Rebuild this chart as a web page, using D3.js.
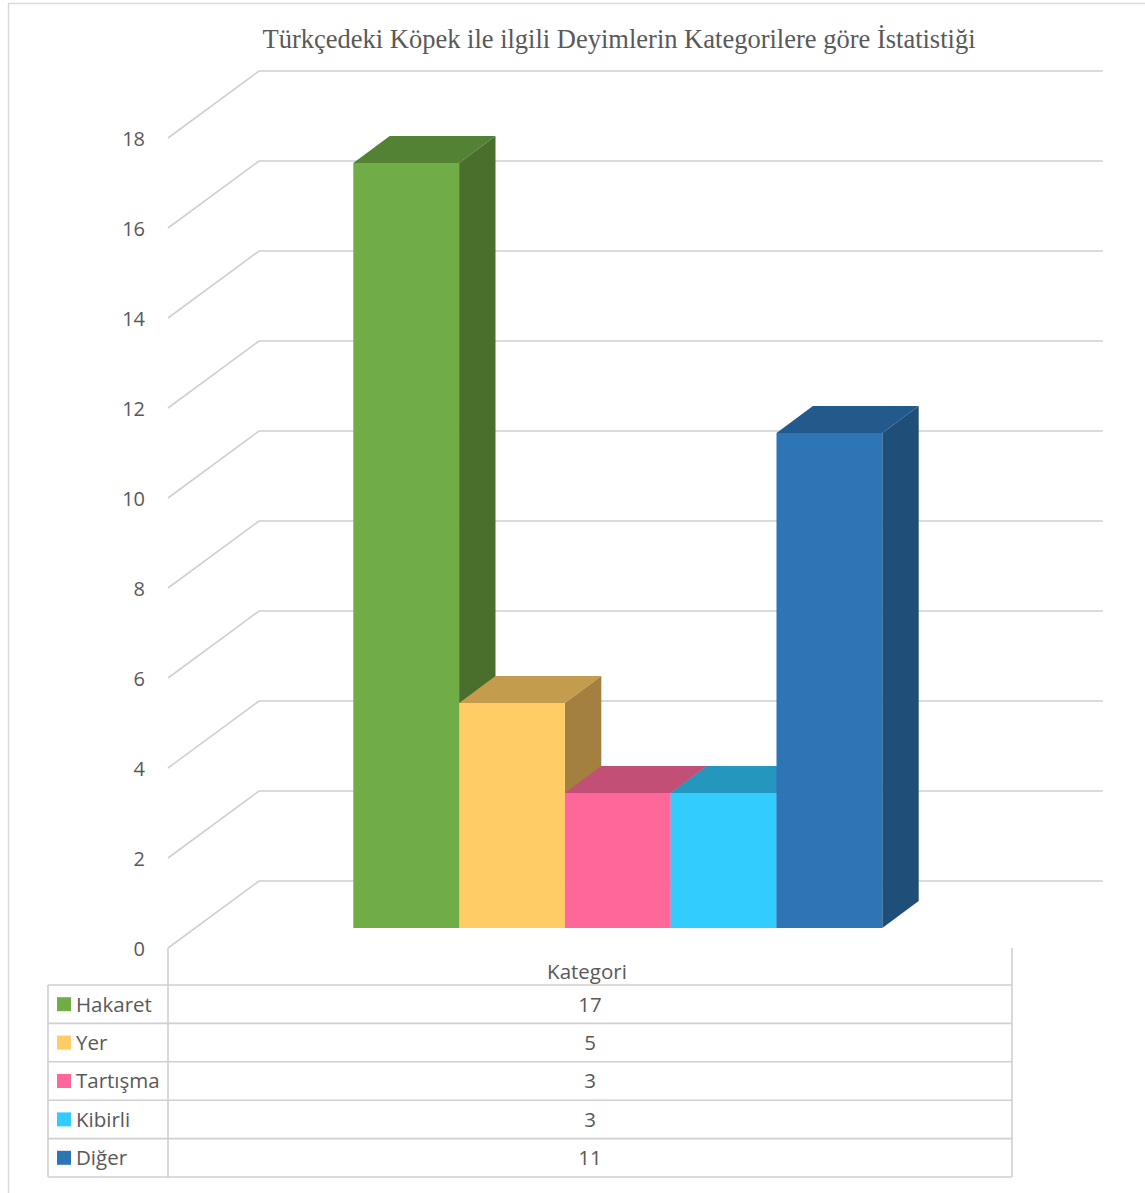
<!DOCTYPE html>
<html><head><meta charset="utf-8">
<script src="https://cdn.jsdelivr.net/npm/d3@7"></script>
<style>body{margin:0;background:#fff}svg{display:block}</style>
</head><body>
<script>
const title = "Türkçedeki Köpek ile ilgili Deyimlerin Kategorilere göre İstatistiği";
const categoryLabel = "Kategori";
const seriesNames = ["Hakaret", "Yer", "Tartışma", "Kibirli", "Diğer"];
const seriesValues = [17, 5, 3, 3, 11];
const yTicks = [0, 2, 4, 6, 8, 10, 12, 14, 16, 18];
const frontColors = ["#70AD47", "#FFCC66", "#FF6699", "#33CCFF", "#2E75B6"];
const topColors = ["#548235", "#C39C4E", "#C14F76", "#2596BE", "#225A8C"];
const sideColors = ["#48702C", "#A3803F", "#A8436A", "#1F86AA", "#1F4E79"];

const W = 1145, H = 1193;
const svg = d3.select("body").append("svg").attr("width", W).attr("height", H);
const txt = "#595959", grid = "#d0d0d0";

svg.append("rect").attr("x", 8.5).attr("y", 3.5).attr("width", 1150).attr("height", 1200)
  .attr("fill", "none").attr("stroke", "#d9d9d9").attr("stroke-width", 1.5);

// geometry
const floorX0 = 168, floorX1 = 1012;
const DX = 91, DY = 67;
const y = d3.scaleLinear().domain([0, 18]).range([948, 138]);
const P = (x, v, d) => [x + d * DX, y(v) - d * DY];

// gridlines: diagonal side + back wall
const g = svg.append("g");
yTicks.forEach(t => {
  const a = P(floorX0, t, 0), b = P(floorX0, t, 1), c = P(floorX1, t, 1);
  g.append("polyline").attr("points", [a, b, c].map(p => p.join(",")).join(" "))
    .attr("fill", "none").attr("stroke", grid).attr("stroke-width", 1.6);
});
g.append("line").attr("x1", floorX0).attr("x2", floorX0).attr("y1", y(0)).attr("y2", 1178)
  .attr("stroke", grid).attr("stroke-width", 1.6);

// y axis labels
svg.append("g").selectAll("text").data(yTicks).join("text")
  .attr("x", 145).attr("y", d => y(d) + 1).attr("dy", "0.36em").attr("text-anchor", "end")
  .attr("font-family", "Open Sans").attr("font-size", 20).attr("fill", txt).text(d => d);

// bars
const x = d3.scaleBand().domain(seriesNames).range([326, 855]).padding(0);
const d0 = 0.3, d1 = 0.7;
const bars = svg.append("g");
seriesNames.forEach((s, i) => {
  const v = seriesValues[i];
  const xl = x(s), xr = x(s) + x.bandwidth();
  const poly = (pts, fill) => bars.append("polygon").attr("points", pts.map(p => p.join(",")).join(" ")).attr("fill", fill);
  poly([P(xl, v, d0), P(xl, v, d1), P(xr, v, d1), P(xr, v, d0)], topColors[i]);
  poly([P(xr, 0, d0), P(xr, 0, d1), P(xr, v, d1), P(xr, v, d0)], sideColors[i]);
  poly([P(xl, 0, d0), P(xr, 0, d0), P(xr, v, d0), P(xl, v, d0)], frontColors[i]);
});

// title
svg.append("text").attr("x", 619).attr("y", 48).attr("text-anchor", "middle")
  .attr("font-family", "Liberation Serif").attr("font-size", 26.5).attr("fill", txt).text(title);

// data table
const rowTop = 985, rowH = 38.4, tblL = 48;
const tg = svg.append("g");
const ln = (x1, y1, x2, y2) => tg.append("line").attr("x1", x1).attr("y1", y1).attr("x2", x2).attr("y2", y2)
  .attr("stroke", grid).attr("stroke-width", 1.6);
ln(floorX1, y(0), floorX1, rowTop + rowH * 5);
for (let r = 0; r <= 5; r++) ln(tblL, rowTop + r * rowH, floorX1, rowTop + r * rowH);
ln(tblL, rowTop, tblL, rowTop + rowH * 5);
const cx = (floorX0 + floorX1) / 2;
tg.append("text").attr("x", cx - 3).attr("y", (y(0) + rowTop) / 2 + 5).attr("dy", "0.36em").attr("text-anchor", "middle")
  .attr("font-family", "Open Sans").attr("font-size", 20.5).attr("fill", txt).text(categoryLabel);
seriesNames.forEach((s, i) => {
  const yc = rowTop + i * rowH + rowH / 2;
  tg.append("rect").attr("x", 57).attr("y", yc - 7).attr("width", 14).attr("height", 14).attr("fill", frontColors[i]);
  tg.append("text").attr("x", 76).attr("y", yc).attr("dy", "0.36em")
    .attr("font-family", "Open Sans").attr("font-size", 20.5).attr("fill", txt).text(s);
  tg.append("text").attr("x", cx).attr("y", yc).attr("dy", "0.36em").attr("text-anchor", "middle")
    .attr("font-family", "Open Sans").attr("font-size", 20.5).attr("fill", txt).text(seriesValues[i]);
});
</script>
</body></html>
